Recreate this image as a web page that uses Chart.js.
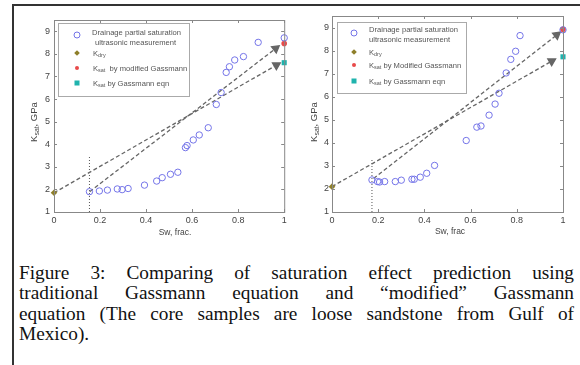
<!DOCTYPE html>
<html>
<head>
<meta charset="utf-8">
<script src="https://cdn.jsdelivr.net/npm/chart.js@4/dist/chart.umd.min.js"></script>
<style>
  body { margin:0; background:#fff; width:580px; height:365px; overflow:hidden; position:relative;
         font-family:"Liberation Sans", Arial, sans-serif; }
  .frame { position:absolute; left:12px; top:4px; width:700px; height:500px;
           border-top:2px solid #333; border-left:2px solid #333; }
  canvas { position:absolute; top:0; }
  #cA { left:0; }
  #cB { left:290px; }
  .t { position:absolute; color:#444; white-space:nowrap; transform:translate(-50%,-50%); }
  .ytitle { font-size:9.5px; transform:translate(-50%,-50%) rotate(-90deg); }
  .xtitle { font-size:8.5px; }
  sub { font-size:0.72em; vertical-align:-0.35em; line-height:0; }
  .leg { position:absolute; background:#fff; border:1px solid #aaa; }
  .lt { position:absolute; font-size:7.6px; color:#555; white-space:nowrap; transform:translateY(-50%); }
  .mk { position:absolute; transform:translate(-50%,-50%); }
  .cap { position:absolute; left:19px; width:555px; font-family:"Liberation Serif","Times New Roman",serif;
         font-size:19.3px; line-height:20.5px; height:20.5px; color:#111; white-space:nowrap; }
  .cap.j { text-align:justify; text-align-last:justify; white-space:normal; }
</style>
</head>
<body>
<div class="frame"></div>
<canvas id="cA" width="290" height="250"></canvas>
<canvas id="cB" width="290" height="250"></canvas>

<!-- axis titles -->
<div class="t ytitle" style="left:33px;top:122px">K<sub>sat</sub>, GPa</div>
<div class="t ytitle" style="left:313px;top:122px">K<sub>sat</sub>, GPa</div>
<div class="t xtitle" style="left:175px;top:232px">Sw, frac.</div>
<div class="t xtitle" style="left:450px;top:231px">Sw, frac</div>

<!-- legend, left -->
<div class="leg" style="left:58px;top:23px;width:130px;height:72px"></div>
<div class="mk" style="left:77px;top:35px;width:5px;height:5px;border:1px solid #7474e8;border-radius:50%"></div>
<div class="lt" style="left:92px;top:32px">Drainage partial saturation</div>
<div class="lt" style="left:95px;top:42px">ultrasonic measurement</div>
<div class="mk" style="left:77px;top:53px;width:4px;height:4px;background:#8e7f2a;transform:translate(-50%,-50%) rotate(45deg)"></div>
<div class="lt" style="left:93px;top:53px">K<sub>dry</sub></div>
<div class="mk" style="left:77px;top:68px;width:4px;height:4px;background:#e84a4a;border-radius:50%"></div>
<div class="lt" style="left:93px;top:68px">K<sub>sat</sub> &nbsp;by modified Gassmann</div>
<div class="mk" style="left:77px;top:83px;width:5px;height:5px;background:#1fb3ad"></div>
<div class="lt" style="left:93px;top:83px">K<sub>sat</sub> by Gassmann eqn</div>

<!-- legend, right -->
<div class="leg" style="left:337px;top:22px;width:128px;height:70px"></div>
<div class="mk" style="left:354px;top:33px;width:5px;height:5px;border:1px solid #7474e8;border-radius:50%"></div>
<div class="lt" style="left:369px;top:29px">Drainage partial saturation</div>
<div class="lt" style="left:369px;top:39px">ultrasonic measurement</div>
<div class="mk" style="left:354px;top:52px;width:4px;height:4px;background:#8e7f2a;transform:translate(-50%,-50%) rotate(45deg)"></div>
<div class="lt" style="left:369px;top:52px">K<sub>dry</sub></div>
<div class="mk" style="left:354px;top:65px;width:4px;height:4px;background:#e84a4a;border-radius:50%"></div>
<div class="lt" style="left:369px;top:65px">K<sub>sat</sub> by Modified Gassmann</div>
<div class="mk" style="left:354px;top:81px;width:5px;height:5px;background:#1fb3ad"></div>
<div class="lt" style="left:369px;top:81px">K<sub>sat</sub> by Gassmann eqn</div>

<!-- caption -->
<div class="cap j" style="top:262.5px">Figure 3: Comparing of saturation effect prediction using</div>
<div class="cap j" style="top:283px">traditional Gassmann equation and “modified” Gassmann</div>
<div class="cap j" style="top:303.5px">equation (The core samples are loose sandstone from Gulf of</div>
<div class="cap" style="top:324px">Mexico).</div>

<script>
const xTicks = [0, 0.2, 0.4, 0.6, 0.8, 1];
const yTicks = [1, 2, 3, 4, 5, 6, 7, 8, 9];

// left panel
const swA = [0.154, 0.197, 0.232, 0.275, 0.296, 0.322, 0.393, 0.446, 0.47, 0.506, 0.538, 0.571,
             0.578, 0.605, 0.631, 0.67, 0.705, 0.726, 0.748, 0.762, 0.785, 0.823, 0.887, 1.0];
const kA  = [1.90, 1.93, 1.97, 2.02, 1.99, 2.04, 2.19, 2.37, 2.52, 2.67, 2.76, 3.85,
             3.94, 4.19, 4.41, 4.73, 5.76, 6.29, 7.18, 7.43, 7.73, 7.88, 8.51, 8.71];
const dryA  = [0, 1.85];
const modA  = [1, 8.46];
const gassA = [1, 7.61];
const gassLineA = [[0, 1.85], [0.966, 7.5]];
const modLineA  = [[0.155, 1.9], [0.963, 8.24]];
const cutA      = [[0.154, 1], [0.154, 3.45]];

// right panel
const swB = [0.173, 0.197, 0.206, 0.228, 0.274, 0.3, 0.346, 0.356, 0.382, 0.41, 0.444,
             0.581, 0.627, 0.645, 0.68, 0.706, 0.723, 0.754, 0.774, 0.795, 0.814, 1.0];
const kB  = [2.39, 2.32, 2.30, 2.32, 2.32, 2.38, 2.42, 2.42, 2.51, 2.68, 3.02,
             4.10, 4.68, 4.73, 5.20, 5.68, 6.15, 7.03, 7.62, 7.97, 8.65, 8.9];
const dryB  = [0, 2.10];
const modB  = [1, 8.92];
const gassB = [1, 7.73];
const gassLineB = [[0, 2.1], [0.951, 7.54]];
const modLineB  = [[0.18, 2.45], [0.973, 8.68]];
const cutB      = [[0.173, 1], [0.173, 3.27]];

const pts = (arr) => arr.map(p => ({ x:p[0], y:p[1] }));

// matlab-like box with inward ticks
const boxPlugin = {
  id: "box",
  afterDraw(chart) {
    const { ctx, chartArea:a, scales } = chart;
    ctx.save();
    ctx.strokeStyle = "#888";
    ctx.lineWidth = 1;
    ctx.strokeRect(a.left + 0.5, a.top + 0.5, a.right - a.left, a.bottom - a.top);
    ctx.beginPath();
    xTicks.forEach(v => {
      const px = Math.round(scales.x.getPixelForValue(v)) + 0.5;
      ctx.moveTo(px, a.bottom); ctx.lineTo(px, a.bottom - 3);
      ctx.moveTo(px, a.top);    ctx.lineTo(px, a.top + 3);
    });
    yTicks.forEach(v => {
      const py = Math.round(scales.y.getPixelForValue(v)) + 0.5;
      ctx.moveTo(a.left, py);  ctx.lineTo(a.left + 3, py);
      ctx.moveTo(a.right, py); ctx.lineTo(a.right - 3, py);
    });
    ctx.stroke();
    ctx.restore();
  }
};

function arrowRotation(c) {
  const d = c.dataset.data, ch = c.chart;
  const a = d[0], b = d[d.length - 1];
  const dx = ch.scales.x.getPixelForValue(b.x) - ch.scales.x.getPixelForValue(a.x);
  const dy = ch.scales.y.getPixelForValue(b.y) - ch.scales.y.getPixelForValue(a.y);
  return Math.atan2(dx, -dy) * 180 / Math.PI;
}

function arrowLine(data) {
  return {
    type: "line", data: pts(data), order: 4, clip: false,
    borderColor: "#666", borderWidth: 1.3, borderDash: [4, 2.5],
    pointStyle: "triangle", pointRadius: [0, 4.5],
    pointBackgroundColor: "#666", pointBorderColor: "#666",
    pointRotation: arrowRotation,
  };
}

function makePanel(id, sw, k, dry, mod, gass, gassLine, modLine, cut, pad, yPad) {
  new Chart(document.getElementById(id), {
    type: "scatter",
    data: {
      datasets: [
        { data: sw.map((s, i) => ({ x:s, y:k[i] })), order: 1, clip: false,
          pointStyle: "circle", pointRadius: 3.2, borderWidth: 1,
          borderColor: "#7474e8", backgroundColor: "rgba(0,0,0,0)" },
        { data: [{ x:dry[0], y:dry[1] }], order: 2, clip: false,
          pointStyle: "rectRot", pointRadius: 3.3, borderWidth: 0, backgroundColor: "#8e7f2a" },
        { data: [{ x:mod[0], y:mod[1] }], order: 3, clip: false,
          pointStyle: "circle", pointRadius: 2.8, borderWidth: 0, backgroundColor: "#e84a4a" },
        { data: [{ x:gass[0], y:gass[1] }], order: 3, clip: false,
          pointStyle: "rect", pointRadius: 3.6, borderWidth: 0, backgroundColor: "#1fb3ad" },
        arrowLine(gassLine),
        arrowLine(modLine),
        { type: "line", data: pts(cut), order: 5, clip: false,
          borderColor: "#555", borderWidth: 1, borderDash: [1, 2], pointRadius: 0 },
      ],
    },
    options: {
      responsive: false,
      animation: false,
      events: [],
      layout: { padding: pad },
      plugins: { legend: { display: false }, tooltip: { enabled: false } },
      scales: {
        x: {
          type: "linear", min: 0, max: 1,
          afterBuildTicks: s => { s.ticks = xTicks.map(v => ({ value:v })); },
          afterFit: s => { s.height = 38; },
          grid: { display: false, drawTicks: false }, border: { display: false },
          ticks: { color: "#444", font: { size: 9, family: "Liberation Sans" }, padding: 3,
                   maxRotation: 0, autoSkip: false, callback: v => String(+v.toFixed(1)) },
        },
        y: {
          type: "linear", min: 1, max: 9.5,
          afterBuildTicks: s => { s.ticks = yTicks.map(v => ({ value:v })); },
          afterFit: s => { s.width = 20; },
          grid: { display: false, drawTicks: false }, border: { display: false },
          ticks: { color: "#444", font: { size: 9, family: "Liberation Sans" }, padding: yPad,
                   autoSkip: false },
        },
      },
    },
    plugins: [boxPlugin],
  });
}

makePanel("cA", swA, kA, dryA, modA, gassA, gassLineA, modLineA, cutA,
          { left: 34, right: 2, top: 20, bottom: 0 }, 4);
makePanel("cB", swB, kB, dryB, modB, gassB, gassLineB, modLineB, cutB,
          { left: 22, right: 17, top: 16, bottom: 0 }, 3);
</script>
</body>
</html>
